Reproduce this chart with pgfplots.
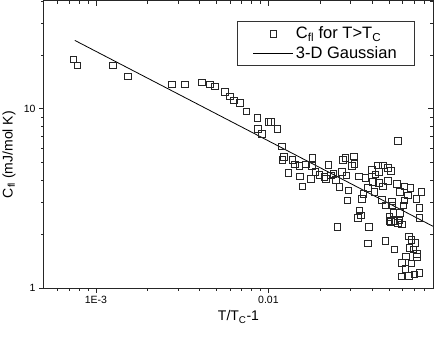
\documentclass[border=0pt]{standalone}
\usepackage{pgfplots}
\pgfplotsset{compat=1.18}
\usepackage{fontspec}
\setmainfont{Liberation Sans}
\pgfplotsset{legend image code/.code={\draw[mark repeat=2,mark phase=2,#1] plot coordinates {(0pt,0pt) (20pt,0pt) (40pt,0pt)};}}
\begin{document}
\begin{tikzpicture}
\useasboundingbox (-44pt,-49pt) rectangle (392pt,288pt);
\begin{axis}[
  at={(0pt,0pt)}, anchor=south west,
  scale only axis, width=389pt, height=287pt,
  xmode=log, ymode=log,
  xmin=5e-4, xmax=0.09, ymin=1, ymax=40,
  xtick={0.001,0.01}, ytick={1,10},
  minor xtick={6e-4,7e-4,8e-4,9e-4,2e-3,3e-3,4e-3,5e-3,6e-3,7e-3,8e-3,9e-3,0.02,0.03,0.04,0.05,0.06,0.07,0.08},
  minor ytick={2,3,4,5,6,7,8,9,20,30,40},
  major tick length=5pt, minor tick length=3pt,
  axis line style={line width=1pt, black!85},
  major tick style={line width=0.8pt, black!85},
  minor tick style={line width=0.8pt, black!85},
  xtick pos=right, ytick pos=right, tick align=inside,
  xticklabels={}, yticklabels={},
]
\end{axis}
\begin{axis}[
  at={(0pt,0pt)}, anchor=south west,
  scale only axis, width=389pt, height=287pt,
  xmode=log, ymode=log,
  xmin=5e-4, xmax=0.09, ymin=1, ymax=40,
  xtick={0.001,0.01}, ytick={1,10},
  minor xtick={6e-4,7e-4,8e-4,9e-4,2e-3,3e-3,4e-3,5e-3,6e-3,7e-3,8e-3,9e-3,0.02,0.03,0.04,0.05,0.06,0.07,0.08},
  minor ytick={2,3,4,5,6,7,8,9,20,30,40},
  major tick length=5pt, minor tick length=3pt,
  axis line style={line width=1pt, black!85},
  major tick style={line width=0.8pt, black!85},
  minor tick style={line width=0.8pt, black!85},
  xtick pos=left, ytick pos=left, tick align=outside,
  xticklabels={1E-3,0.01}, yticklabels={1,10},
  tick label style={font=\fontsize{10.5}{12}\selectfont},
  xlabel={T/T\textsubscript{C}-1},
  ylabel={C\textsubscript{fl} (mJ/mol K)},
  label style={font=\fontsize{14}{16}\selectfont},
  xlabel style={at={(axis description cs:0.5,-0.101)}, anchor=center},
  ylabel style={at={(axis description cs:-0.090,0.465)}, anchor=center},
  legend style={at={(0.954,0.930)}, anchor=north east, draw=black!80, line width=0.7pt,
    font=\fontsize{16.5}{19}\selectfont, inner xsep=16pt, inner ysep=3.5pt, row sep=2pt},
  legend cell align=left,
]
\addplot[only marks, mark=square, mark size=3.3pt, mark options={line width=0.8pt, black!85}] coordinates {
(7.42e-4,18.9) (7.83e-4,17.5) (1.25e-3,17.5) (1.53e-3,15.2) (2.75e-3,13.7) (3.28e-3,13.7)
(4.12e-3,14.06) (4.58e-3,13.7) (4.90e-3,13.36) (5.60e-3,12.41) (5.98e-3,11.74) (6.32e-3,11.15)
(6.82e-3,10.78) (7.45e-3,9.68) (8.63e-3,8.93) (8.71e-3,7.75) (9.15e-3,7.27) (0.0100,8.44)
(0.01033,8.44) (0.01128,7.75) (0.01196,6.17) (0.01234,5.38) (0.01206,5.20) (0.01379,5.20)
(0.01429,4.90) (0.01509,4.82) (0.01650,4.90) (0.01803,5.34) (0.01788,4.82) (0.01307,4.38)
(0.01523,4.20) (0.01577,3.70) (0.01764,4.07) (0.01868,4.44) (0.01971,4.29) (0.02108,4.16)
(0.02157,4.07) (0.02224,4.85) (0.02306,4.25) (0.02378,4.35) (0.02466,4.02) (0.02576,3.66)
(0.02671,4.44) (0.02693,5.20) (0.02792,5.34) (0.02518,2.19) (0.02869,3.08) (0.02908,3.50)
(0.02829,4.25) (0.0562,6.61) (0.03120,5.43) (0.03150,4.94) (0.03054,4.82) (0.03337,4.20)
(0.03649,4.13) (0.03993,4.57) (0.04302,4.83) (0.04600,4.83) (0.04360,4.44) (0.04172,4.31)
(0.04918,4.69) (0.05146,4.49) (0.04025,3.90) (0.04360,3.85) (0.04918,3.95) (0.04600,3.69)
(0.03763,3.63) (0.04116,3.43) (0.05549,3.82) (0.06152,3.69) (0.06640,3.63) (0.05808,3.43)
(0.06429,3.29) (0.07691,3.43) (0.07194,3.15) (0.06152,3.08) (0.03553,3.36) (0.03491,3.15)
(0.04563,3.11) (0.05216,3.05) (0.04816,2.89) (0.05216,2.89) (0.06068,2.89) (0.07519,2.81)
(0.03368,2.71) (0.03445,2.54) (0.03292,2.47) (0.05031,2.49) (0.05309,2.62) (0.05808,2.62)
(0.05031,2.36) (0.05381,2.36) (0.05754,2.38) (0.05964,2.26) (0.07519,2.47) (0.03814,2.19)
(0.03763,1.77) (0.04771,1.83) (0.05381,1.64) (0.06516,1.94) (0.06729,1.86) (0.07127,1.78)
(0.06577,1.68) (0.06940,1.64) (0.07254,1.55) (0.06292,1.50) (0.07254,1.49) (0.05964,1.38)
(0.06729,1.37) (0.06234,1.28) (0.05887,1.16) (0.06516,1.17) (0.07033,1.19) (0.07519,1.21)
(0.05146,2.33) (0.05623,2.30)
};
\addlegendentry{C\textsubscript{fl} for T>T\textsubscript{C}}
\addplot[black, line width=0.8pt, no marks] coordinates {(7.55e-4,24.1) (0.09,2.21)};
\addlegendentry{3-D Gaussian}
\end{axis}
\end{tikzpicture}
\end{document}
